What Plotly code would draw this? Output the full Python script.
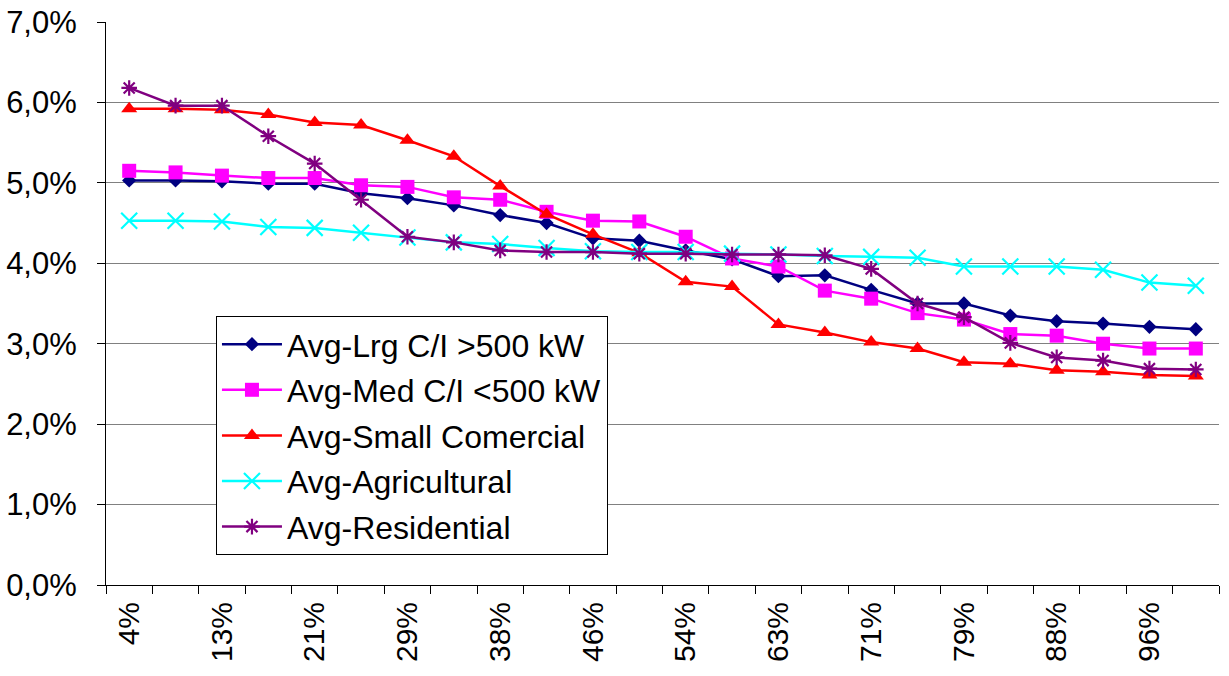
import plotly.graph_objects as go

categories = ["4%", "8%", "13%", "17%", "21%", "25%", "29%", "33%", "38%", "42%", "46%", "50%",
              "54%", "58%", "63%", "67%", "71%", "75%", "79%", "83%", "88%", "92%", "96%", "100%"]

lrg = [5.03, 5.03, 5.02, 4.99, 4.99, 4.87, 4.81, 4.72, 4.60, 4.50, 4.31, 4.28,
       4.16, 4.05, 3.84, 3.85, 3.67, 3.50, 3.50, 3.35, 3.28, 3.25, 3.21, 3.18]
med = [5.15, 5.13, 5.09, 5.06, 5.06, 4.97, 4.95, 4.82, 4.79, 4.64, 4.53, 4.52,
       4.33, 4.06, 3.96, 3.66, 3.56, 3.38, 3.30, 3.12, 3.10, 3.00, 2.94, 2.94]
small = [5.92, 5.92, 5.91, 5.85, 5.75, 5.72, 5.53, 5.33, 4.96, 4.61, 4.36, 4.13,
         3.77, 3.71, 3.24, 3.14, 3.02, 2.94, 2.77, 2.75, 2.67, 2.65, 2.61, 2.60]
agri = [4.53, 4.53, 4.52, 4.45, 4.44, 4.38, 4.32, 4.26, 4.24, 4.19, 4.15, 4.14,
        4.14, 4.12, 4.11, 4.09, 4.08, 4.07, 3.96, 3.96, 3.96, 3.92, 3.76, 3.72]
resid = [6.18, 5.96, 5.96, 5.58, 5.24, 4.79, 4.33, 4.26, 4.16, 4.14, 4.14, 4.12,
         4.12, 4.11, 4.11, 4.10, 3.93, 3.50, 3.33, 3.01, 2.83, 2.79, 2.69, 2.68]

tick_labels = [c if i % 2 == 0 else "" for i, c in enumerate(categories)]

series = [
    ("Avg-Lrg C/I >500 kW", lrg, "#000080", dict(symbol="diamond", size=11)),
    ("Avg-Med C/I <500 kW", med, "#FF00FF", dict(symbol="square", size=14)),
    ("Avg-Small Comercial", small, "#FF0000", dict(symbol="triangle-up", size=14)),
    ("Avg-Agricultural", agri, "#00FFFF", dict(symbol="x-thin-open", size=16, line=dict(width=2.2, color="#00FFFF"))),
    ("Avg-Residential", resid, "#800080", dict(symbol="asterisk-open", size=13, line=dict(width=2.2, color="#800080"))),
]

fig = go.Figure()
for i, (name, vals, color, mk) in enumerate(series):
    mk = dict(mk)
    mk["color"] = color
    fig.add_trace(go.Scatter(
        x=categories, y=vals, name=name, mode="lines+markers",
        line=dict(color=color, width=2.5), marker=mk, legendgroup=str(i),
    ))

font_family = "Arial, Liberation Sans, sans-serif"
fig.update_layout(
    width=1229, height=676,
    margin=dict(l=106, r=10, t=22, b=91),
    paper_bgcolor="white", plot_bgcolor="white",
    font=dict(family=font_family, size=30, color="black"),
    showlegend=True,
    legend=dict(
        x=0.0988, y=0.478, xanchor="left", yanchor="top",
        bgcolor="white", bordercolor="black", borderwidth=1,
        font=dict(size=32, color="black"), tracegroupgap=1, itemwidth=60,
    ),
    xaxis=dict(
        type="category", categoryorder="array", categoryarray=categories,
        tickmode="array", tickvals=categories, ticktext=tick_labels,
        tickson="boundaries", ticks="outside", ticklen=8, tickcolor="black",
        tickangle=-90, tickfont=dict(size=30), ticklabelstandoff=4,
        showline=True, linecolor="black", linewidth=1, automargin=False,
        showgrid=False, mirror=False, range=[-0.5, 23.5],
    ),
    yaxis=dict(
        range=[0, 7], dtick=1, tick0=0, tickformat=".1f", ticksuffix="%",
        ticks="outside", ticklen=8, tickcolor="black",
        tickfont=dict(size=31), ticklabelstandoff=14, automargin=False,
        showline=True, linecolor="black", linewidth=1,
        showgrid=True, gridcolor="#808080", gridwidth=1, zeroline=False,
    ),
    separators=",.",
)

fig.write_html("out.html")
